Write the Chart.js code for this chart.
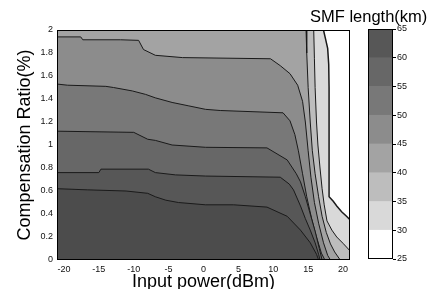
<!DOCTYPE html>
<html lang="en">

<head>
    <meta charset="UTF-8">
    <title>SMF length contour</title>
    <style>
        body {
            margin: 0;
            background: #fff;
        }

        #main {
            position: absolute;
            left: 0;
            top: 0;
        }

        #bar {
            position: absolute;
            left: 310px;
            top: 0;
        }
    </style>
</head>

<body>
    <canvas id="main" width="360" height="289"></canvas>
    <canvas id="bar" width="125" height="289"></canvas>

    <script src="https://cdn.jsdelivr.net/npm/chart.js"></script>
    <script>
        // ---- data ----
        const xTicks = [-20, -15, -10, -5, 0, 5, 10, 15, 20];
        const yTicks = [0, 0.2, 0.4, 0.6, 0.8, 1, 1.2, 1.4, 1.6, 1.8, 2];
        const levels = [25, 30, 35, 40, 45, 50, 55, 60, 65];
        const levelColors = ['#ffffff', '#d9d9d9', '#bdbdbd', '#a3a3a3', '#8c8c8c', '#787878', '#676767', '#575757'];

        // contour boundaries [input power, compensation ratio], area below = higher SMF length
        const k30 = [[-21, 2], [17.2, 2], [17.5, 1.92], [17.8, 1.84], [17.95, 1.7], [18.0, 1.5], [18.0, 0.55], [18.6, 0.51], [19.1, 0.47], [19.8, 0.42], [20.5, 0.38], [21, 0.35]];
        const k35 = [[-21, 2], [15.8, 2], [15.9, 1.75], [16.0, 1.5], [16.2, 1.2], [16.4, 1.0], [16.7, 0.8], [17.0, 0.62], [17.3, 0.48], [17.7, 0.34], [18.4, 0.26], [19.1, 0.2], [20, 0.145], [21, 0.08]];
        const k40 = [[-21, 2], [14.7, 2], [14.8, 1.8], [15.0, 1.5], [15.3, 1.2], [15.6, 0.95], [16.0, 0.75], [16.5, 0.55], [17.0, 0.38], [17.6, 0.24], [18.2, 0.14], [18.8, 0.07], [19.6, 0]];
        const k45 = [[-21, 1.94], [-17.6, 1.94], [-17.3, 1.915], [-11.9, 1.915], [-9.3, 1.91], [-8.6, 1.83], [-6.9, 1.78], [-3, 1.76], [9.6, 1.75], [11, 1.69], [12.4, 1.62], [13.5, 1.52], [14.2, 1.38], [14.6, 1.2], [15.0, 0.95], [15.4, 0.72], [15.9, 0.5], [16.5, 0.32], [17.2, 0.15], [17.8, 0.04], [18.2, 0]];
        const k50 = [[-21, 1.53], [-19.5, 1.52], [-14, 1.51], [-12.9, 1.5], [-10.2, 1.47], [-8.3, 1.44], [-6.9, 1.41], [-4.5, 1.37], [-2.1, 1.34], [0.3, 1.31], [2.4, 1.3], [11.4, 1.28], [12.4, 1.21], [13.1, 1.09], [13.6, 0.95], [14.2, 0.75], [14.8, 0.55], [15.5, 0.36], [16.2, 0.2], [16.9, 0.06], [17.4, 0]];
        const k55 = [[-21, 1.12], [-10, 1.11], [-8, 1.05], [-6.9, 1.04], [-4.5, 1.0], [0.3, 0.98], [9.1, 0.975], [12, 0.87], [13.3, 0.75], [13.9, 0.68], [14.6, 0.55], [15.3, 0.4], [16.0, 0.25], [16.6, 0.1], [17.0, 0]];
        const k60 = [[-21, 0.76], [-15, 0.76], [-14.7, 0.79], [-7.9, 0.79], [-6.9, 0.76], [-4, 0.74], [0.3, 0.73], [11, 0.72], [12.3, 0.66], [12.9, 0.61], [13.9, 0.47], [14.6, 0.36], [15.3, 0.26], [16, 0.15], [16.5, 0.05], [16.7, 0]];
        const k65 = [[-21, 0.62], [-16.6, 0.61], [-11.1, 0.6], [-8, 0.58], [-6.9, 0.55], [-5.4, 0.52], [-3.6, 0.5], [0.3, 0.48], [4.3, 0.48], [9.1, 0.46], [12, 0.38], [13.9, 0.26], [15.3, 0.15], [16.2, 0.05], [16.5, 0]];

        const font = 'Liberation Sans, Arial, Helvetica, sans-serif';

        // black box round the plot area
        const frame = {
            id: 'frame',
            afterDraw(chart) {
                const a = chart.chartArea;
                const ctx = chart.ctx;
                ctx.save();
                ctx.strokeStyle = '#000';
                ctx.lineWidth = 1;
                ctx.strokeRect(a.left + 0.5, a.top + 0.5, a.right - a.left - 1, a.bottom - a.top - 1);
                ctx.restore();
            }
        };

        function contour(pts, color, width) {
            return {
                data: pts.map(p => ({ x: p[0], y: p[1] })),
                backgroundColor: color,
                borderColor: '#1a1a1a',
                borderWidth: width || 1,
                fill: 'origin',
                pointRadius: 0,
                tension: 0
            };
        }

        // dataset 0 is drawn last (on top), so inner (darker) regions go first
        const datasets = [
            contour(k65, '#4c4c4c'),
            contour(k60, levelColors[7]),
            contour(k55, levelColors[6]),
            contour(k50, levelColors[5]),
            contour(k45, levelColors[4]),
            contour(k40, levelColors[3]),
            contour(k35, levelColors[2]),
            contour(k30, levelColors[1], 1.5)
        ];

        new Chart(document.getElementById('main'), {
            type: 'line',
            data: { datasets: datasets },
            plugins: [frame],
            options: {
                responsive: false,
                animation: false,
                devicePixelRatio: 1,
                layout: { padding: { top: 30, right: 10, left: 0, bottom: 0 } },
                plugins: { legend: { display: false }, tooltip: { enabled: false } },
                scales: {
                    x: {
                        type: 'linear',
                        min: -21,
                        max: 21,
                        afterBuildTicks: axis => { axis.ticks = xTicks.map(v => ({ value: v })); },
                        afterFit: axis => { axis.height = 29; },
                        grid: { display: false, drawTicks: false },
                        border: { display: false },
                        ticks: { color: '#111', padding: 4, maxRotation: 0, font: { family: font, size: 9 }, callback: v => String(v) },
                        title: {
                            display: true,
                            text: 'Input power(dBm)',
                            color: '#000',
                            padding: { top: 0, bottom: 0 },
                            font: { family: font, size: 18, lineHeight: 0.8 }
                        }
                    },
                    y: {
                        type: 'linear',
                        min: 0,
                        max: 2,
                        afterBuildTicks: axis => { axis.ticks = yTicks.map(v => ({ value: v })); },
                        afterFit: axis => { axis.width = 57; },
                        grid: { display: false, drawTicks: false },
                        border: { display: false },
                        ticks: { color: '#111', padding: 4, font: { family: font, size: 9 }, callback: v => String(Math.round(v * 10) / 10) },
                        title: {
                            display: true,
                            text: 'Compensation Ratio(%)',
                            color: '#000',
                            padding: { top: 14, bottom: 0 },
                            font: { family: font, size: 18 }
                        }
                    }
                }
            }
        });

        // colour bar
        const barSets = [];
        for (let i = 0; i < levels.length - 1; i++) {
            barSets.push({
                data: [[levels[i], levels[i + 1]]],
                backgroundColor: levelColors[i],
                borderWidth: 0,
                barPercentage: 1,
                categoryPercentage: 1,
                yAxisID: 'y'
            });
        }

        new Chart(document.getElementById('bar'), {
            type: 'bar',
            data: { labels: ['SMF'], datasets: barSets },
            plugins: [frame],
            options: {
                responsive: false,
                animation: false,
                devicePixelRatio: 1,
                layout: { padding: { top: 0, right: 0, left: 0, bottom: 30 } },
                plugins: {
                    legend: { display: false },
                    tooltip: { enabled: false },
                    title: {
                        display: true,
                        text: 'SMF length(km)',
                        align: 'start',
                        color: '#000',
                        padding: { top: 9.5, bottom: 3 },
                        font: { family: font, size: 16.5, weight: 'normal', lineHeight: 1 }
                    }
                },
                scales: {
                    x: { display: false, stacked: true },
                    y: {
                        position: 'right',
                        min: 25,
                        max: 65,
                        stacked: false,
                        afterFit: axis => { axis.width = 42; },
                        grid: { display: true, drawOnChartArea: false, drawTicks: true, tickLength: 3, color: '#000' },
                        border: { display: false },
                        ticks: { stepSize: 5, color: '#111', padding: 1, font: { family: font, size: 9 } }
                    },
                    yL: {
                        type: 'linear',
                        position: 'left',
                        afterFit: axis => { axis.width = 58; },
                        grid: { display: false, drawTicks: false },
                        border: { display: false },
                        ticks: { display: false }
                    }
                }
            }
        });
    </script>

</body>

</html>
